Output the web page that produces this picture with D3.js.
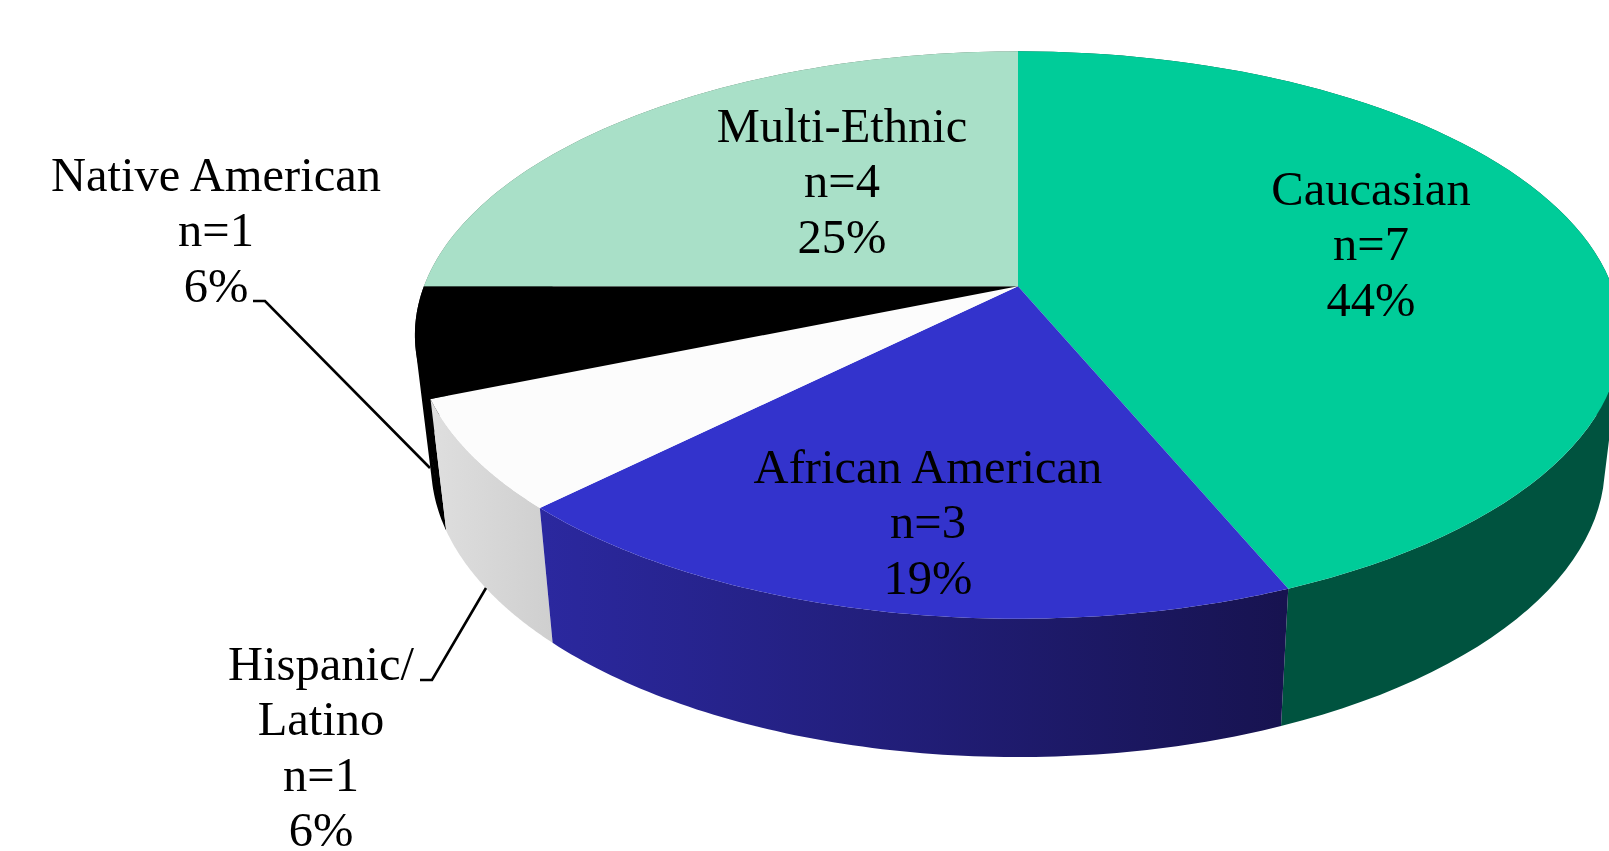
<!DOCTYPE html>
<html>
<head>
<meta charset="utf-8">
<script src="https://cdn.jsdelivr.net/npm/d3@7"></script>
<style>
html,body{margin:0;padding:0;background:#fff;overflow:hidden}
svg{display:block}
text{font-family:"Liberation Serif",serif;font-size:48.5px;fill:#000;text-anchor:middle}
.soft{filter:blur(0.35px)}
</style>
</head>
<body>
<svg id="chart" width="1609" height="851"></svg>
<script>
const categories = ["Caucasian","African American","Hispanic/Latino","Native American","Multi-Ethnic"];
const counts = [7,3,1,1,4];
const percents = ["44%","19%","6%","6%","25%"];
const topColors = ["#00cc99","#3333cc","#fcfcfc","#000000","#a9e0c8"];
const labelLines = [
  ["Caucasian","n=7","44%"],
  ["African American","n=3","19%"],
  ["Hispanic/","Latino","n=1","6%"],
  ["Native American","n=1","6%"],
  ["Multi-Ethnic","n=4","25%"]
];
const labelCenters = [1371,928,321,216,842];
const labelBaselines = [205,483,680,191,142];
const lineStep = 55.3;
const leaders = [
  [[253,301],[265,301],[430,468]],
  [[420,680],[432,680],[486,588]]
];
// perspective disc parameters (top face and base of the cylinder)
const persp = 0.1718;
const topDisc = {cx:1018, cy:286.3, a:275.3, b:594.1};
const baseDisc = {cx:1018, cy:414.5, a:283.7, b:578.2};
const project = (disc,t) => {
  const d = 1 + persp*Math.cos(t);
  return [disc.cx + disc.b*Math.sin(t)/d, disc.cy - disc.a*Math.cos(t)/d];
};

const svg = d3.select("#chart");
const defs = svg.append("defs");
const sideFill = [
  {id:"g0",stops:["#00533f","#00533f"],x1:1280,x2:1609},
  {id:"g1",stops:["#2b289f","#171350"],x1:540,x2:1285},
  {id:"g2",stops:["#dedede","#cfcfcf"],x1:435,x2:552},
  {id:"g3",stops:["#000000","#000000"],x1:400,x2:450},
  {id:"g4",stops:["#55705f","#55705f"],x1:400,x2:1018}
];
sideFill.forEach(g=>{
  const lg = defs.append("linearGradient").attr("id",g.id)
    .attr("gradientUnits","userSpaceOnUse")
    .attr("x1",g.x1).attr("x2",g.x2).attr("y1",0).attr("y2",0);
  lg.append("stop").attr("offset",0).attr("stop-color",g.stops[0]);
  lg.append("stop").attr("offset",1).attr("stop-color",g.stops[1]);
});

const pie = d3.pie().sort(null).value(d=>d);
const arcs = pie(counts);
const line = d3.line();
const samples = a => d3.range(0,81).map(i=>a.startAngle+(a.endAngle-a.startAngle)*i/80);

// side walls: one quad per step so the silhouette is the true hull
const sideOrder = [4,3,0,2,1];
svg.append("g").selectAll("path").data(sideOrder).join("path")
  .attr("d",i=>{
    const ts = samples(arcs[i]);
    let d = "";
    for(let k=0;k<ts.length-1;k++){
      const q = [project(topDisc,ts[k]),project(topDisc,ts[k+1]),project(baseDisc,ts[k+1]),project(baseDisc,ts[k])];
      const area = d3.polygonArea(q);
      if(area<0) q.reverse();
      d += line(q)+"Z";
    }
    return d;
  })
  .attr("fill",i=>`url(#g${i})`);

// top faces
svg.append("g").selectAll("path").data(arcs).join("path")
  .attr("d",a=>line([[topDisc.cx,topDisc.cy],...samples(a).map(t=>project(topDisc,t))])+"Z")
  .attr("fill",(a,i)=>topColors[i]);

// leader lines
svg.append("g").attr("class","soft").selectAll("path").data(leaders).join("path")
  .attr("d",d=>line(d)).attr("fill","none").attr("stroke","#000").attr("stroke-width",2.6);

// labels
svg.append("g").attr("class","soft").selectAll("text")
  .data(labelLines.flatMap((ls,i)=>ls.map((s,j)=>({s,x:labelCenters[i],y:labelBaselines[i]+j*lineStep}))))
  .join("text").attr("x",d=>d.x).attr("y",d=>d.y).text(d=>d.s);
</script>
</body>
</html>
